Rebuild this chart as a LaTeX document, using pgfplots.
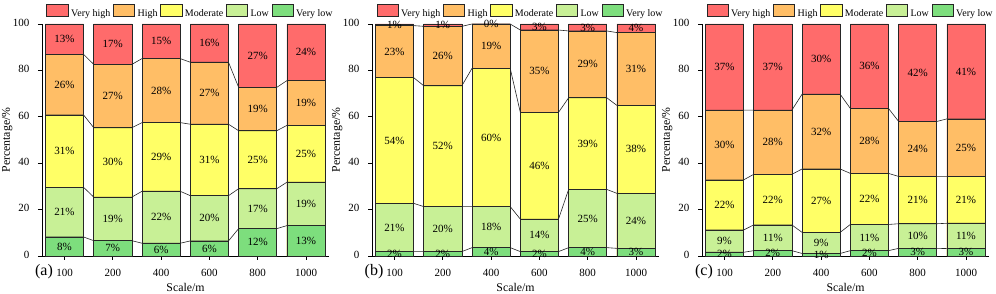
\documentclass[border=0pt]{standalone}
\usepackage{pgfplots}
\pgfplotsset{compat=1.18}
\usepackage{pgfplotstable}
\usepackage{fontspec}
\setmainfont{Liberation Serif}

\definecolor{cVH}{RGB}{255,107,107}
\definecolor{cH}{RGB}{255,190,102}
\definecolor{cM}{RGB}{255,255,102}
\definecolor{cL}{RGB}{200,240,150}
\definecolor{cVL}{RGB}{125,222,125}

% b1..b4: cumulative tops of Very low, Low, Moderate, High; l1..l5: printed labels
% each bar appears twice: e=-1 (left edge) and e=1 (right edge)
\pgfplotstableread{
x e b1 b2 b3 b4 l1 l2 l3 l4 l5
0 -1 8.2 29.6 60.8 86.9 8 21 31 26 13
0 1 8.2 29.6 60.8 86.9 8 21 31 26 13
1 -1 6.6 25.4 55.3 82.6 7 19 30 27 17
1 1 6.6 25.4 55.3 82.6 7 19 30 27 17
2 -1 5.5 27.9 57.5 85.1 6 22 29 28 15
2 1 5.5 27.9 57.5 85.1 6 22 29 28 15
3 -1 6.5 26.0 56.8 83.5 6 20 31 27 16
3 1 6.5 26.0 56.8 83.5 6 20 31 27 16
4 -1 11.8 29.0 54.0 72.7 12 17 25 19 27
4 1 11.8 29.0 54.0 72.7 12 17 25 19 27
5 -1 13.1 31.8 56.3 75.6 13 19 25 19 24
5 1 13.1 31.8 56.3 75.6 13 19 25 19 24
}\tabA

\pgfplotstableread{
x e b1 b2 b3 b4 l1 l2 l3 l4 l5
0 -1 1.9 22.7 76.9 99.3 2 21 54 23 1
0 1 1.9 22.7 76.9 99.3 2 21 54 23 1
1 -1 1.9 21.3 73.4 99.0 2 20 52 26 1
1 1 1.9 21.3 73.4 99.0 2 20 52 26 1
2 -1 3.6 21.3 80.9 100.0 4 18 60 19 0
2 1 3.6 21.3 80.9 100.0 4 18 60 19 0
3 -1 1.9 15.9 61.9 97.4 2 14 46 35 3
3 1 1.9 15.9 61.9 97.4 2 14 46 35 3
4 -1 3.6 28.7 68.2 97.0 4 25 39 29 3
4 1 3.6 28.7 68.2 97.0 4 25 39 29 3
5 -1 3.3 27.0 64.9 96.3 3 24 38 31 4
5 1 3.3 27.0 64.9 96.3 3 24 38 31 4
}\tabB

\pgfplotstableread{
x e b1 b2 b3 b4 l1 l2 l3 l4 l5
0 -1 1.6 11.2 32.8 62.9 2 9 22 30 37
0 1 1.6 11.2 32.8 62.9 2 9 22 30 37
1 -1 2.3 13.4 35.2 62.9 2 11 22 28 37
1 1 2.3 13.4 35.2 62.9 2 11 22 28 37
2 -1 1.1 10.2 37.5 69.7 1 9 27 32 30
2 1 1.1 10.2 37.5 69.7 1 9 27 32 30
3 -1 2.3 13.6 35.6 63.6 2 11 22 28 36
3 1 2.3 13.6 35.6 63.6 2 11 22 28 36
4 -1 3.3 13.9 34.3 58.0 3 10 21 24 42
4 1 3.3 13.9 34.3 58.0 3 10 21 24 42
5 -1 3.2 14.1 34.3 59.1 3 11 21 25 41
5 1 3.2 14.1 34.3 59.1 3 11 21 25 41
}\tabC

\pgfplotsset{
  panel/.style={
    scale only axis, width=287pt, height=232pt,
    anchor=south west,
    xmin=-0.466, xmax=5.476, ymin=0, ymax=100,
    axis x line*=bottom, axis y line*=left,
    xtick={0,1,2,3,4,5}, xticklabels={100,200,400,600,800,1000},
    ytick={0,20,40,60,80,100},
    tick align=outside, major tick length=4pt,
    tick style={black, line width=0.7pt},
    axis line style={black, line width=0.8pt},
    /pgf/number format/assume math mode=true,
    tick label style={font=\fontsize{11}{13}\selectfont},
    xticklabel style={anchor=base, inner sep=0pt, yshift=-17pt},
    yticklabel style={anchor=mid east, inner sep=0pt, xshift=-8.5pt},
    every axis x label/.style={at={(axis description cs:0.5,-0.1336)}, anchor=center, font=\fontsize{11.8}{13}\selectfont},
    every axis y label/.style={at={(axis description cs:-0.1209,0.5)}, rotate=90, anchor=center, font=\fontsize{11.8}{13}\selectfont},
    xlabel={Scale/m}, ylabel={Percentage/\%},
    clip=false,
    legend columns=5,
    legend style={at={(axis description cs:0,1)}, anchor=south west, xshift=4.5pt, yshift=6pt,
      draw=none, fill=none, inner sep=0pt, outer sep=0pt,
      font=\fontsize{10}{12}\selectfont, nodes={inner sep=0pt},
      /tikz/every odd column/.append style={column sep=2.6pt},
      /tikz/every even column/.append style={column sep=2.6pt}},
    legend image code/.code={\draw[##1,line width=0.6pt] (0pt,-3pt) rectangle (21.5pt,9pt);},
  },
  barsty/.style={ybar, bar width=0.79, bar shift=0pt, draw=black!85, line width=0.6pt,
    restrict expr to domain={\thisrow{e}}{0:2}},
  linesty/.style={sharp plot, black!85, line width=0.6pt, mark=none, forget plot},
  labsty/.style={only marks, mark=none, forget plot, point meta=explicit symbolic,
    restrict expr to domain={\thisrow{e}}{0:2},
    nodes near coords={\pgfplotspointmeta\%},
    every node near coord/.append style={anchor=center, inner sep=0pt, text=black,
      font=\fontsize{11}{13}\selectfont}},
}

\newcommand\panelplots[1]{%
  \addplot[barsty, fill=cVH] table[x=x, y expr=100]{#1};
  \addlegendentry{Very high}
  \addplot[barsty, fill=cH] table[x=x, y=b4]{#1};
  \addlegendentry{High}
  \addplot[barsty, fill=cM] table[x=x, y=b3]{#1};
  \addlegendentry{Moderate}
  \addplot[barsty, fill=cL] table[x=x, y=b2]{#1};
  \addlegendentry{Low}
  \addplot[barsty, fill=cVL] table[x=x, y=b1]{#1};
  \addlegendentry{Very low}
  \addplot[linesty] table[x expr=\thisrow{x}+0.395*\thisrow{e}, y=b1]{#1};
  \addplot[linesty] table[x expr=\thisrow{x}+0.395*\thisrow{e}, y=b2]{#1};
  \addplot[linesty] table[x expr=\thisrow{x}+0.395*\thisrow{e}, y=b3]{#1};
  \addplot[linesty] table[x expr=\thisrow{x}+0.395*\thisrow{e}, y=b4]{#1};
  \addplot[labsty] table[x=x, y expr=\thisrow{b1}/2, meta=l1]{#1};
  \addplot[labsty] table[x=x, y expr=(\thisrow{b1}+\thisrow{b2})/2, meta=l2]{#1};
  \addplot[labsty] table[x=x, y expr=(\thisrow{b2}+\thisrow{b3})/2, meta=l3]{#1};
  \addplot[labsty] table[x=x, y expr=(\thisrow{b3}+\thisrow{b4})/2, meta=l4]{#1};
  \addplot[labsty] table[x=x, y expr=(\thisrow{b4}+100)/2, meta=l5]{#1};
}

\begin{document}
\begin{tikzpicture}
\useasboundingbox (0,0) rectangle (996pt,294pt);
\begin{axis}[panel, at={(42pt,38pt)}]
\panelplots{\tabA}
\end{axis}
\begin{axis}[panel, at={(372pt,38pt)}]
\panelplots{\tabB}
\end{axis}
\begin{axis}[panel, at={(702pt,38pt)}]
\panelplots{\tabC}
\end{axis}
\node[font=\fontsize{16}{18}\selectfont] at (44pt,22pt) {(a)};
\node[font=\fontsize{16}{18}\selectfont] at (374pt,22pt) {(b)};
\node[font=\fontsize{16}{18}\selectfont] at (704pt,22pt) {(c)};
\end{tikzpicture}
\end{document}
